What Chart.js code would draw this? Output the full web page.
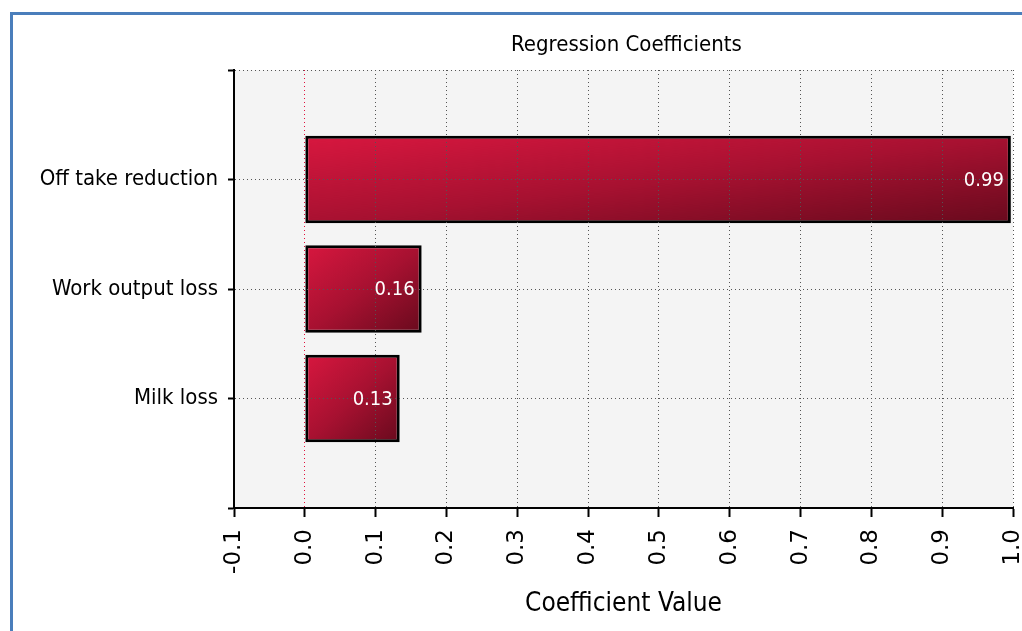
<!DOCTYPE html>
<html>
<head>
<meta charset="utf-8">
<script src="https://cdn.jsdelivr.net/npm/chart.js@4"></script>
<style>
  html, body { margin: 0; padding: 0; background: #fff; }
  #wrap { position: relative; width: 1022px; height: 631px; overflow: hidden; }
  #frame { position: absolute; left: 10px; top: 12px; right: -10px; bottom: -10px;
           border-top: 3px solid #4a7ebb; border-left: 3px solid #4a7ebb; pointer-events: none; }
  canvas { position: absolute; left: 0; top: 0; }
</style>
</head>
<body>
<div id="wrap">
  <canvas id="coefChart" width="1022" height="631"></canvas>
  <div id="frame"></div>
</div>
<script>
// categories: empty slots at each end keep the band layout of the original
const categories = ['', 'Off take reduction', 'Work output loss', 'Milk loss', ''];
// bar lengths as drawn, and the (truncated) numbers printed on them
const coefficients = [null, 0.997, 0.165, 0.134, null];
const printedValues = [null, '0.99', '0.16', '0.13', null];
const xTicks = [-0.1, 0.0, 0.1, 0.2, 0.3, 0.4, 0.5, 0.6, 0.7, 0.8, 0.9, 1.0];
const chartTitle = 'Regression Coefficients';

const narrowFamily = "'DejaVu Sans Condensed', 'DejaVu Sans', sans-serif";

// diagonal shade, stretched to each bar's box
const shadeCanvas = document.createElement('canvas');
shadeCanvas.width = 100; shadeCanvas.height = 100;
(function () {
  const g = shadeCanvas.getContext('2d');
  const grad = g.createLinearGradient(0, 0, 100, 100);
  grad.addColorStop(0, '#d8173f');
  grad.addColorStop(0.5, '#a81131');
  grad.addColorStop(1, '#680a1d');
  g.fillStyle = grad;
  g.fillRect(0, 0, 100, 100);
})();

function barFill(ctx) {
  const chart = ctx.chart;
  const v = ctx.raw;
  if (!chart.chartArea || v == null) return '#b01232';
  const xs = chart.scales.x, ys = chart.scales.y;
  const x0 = xs.getPixelForValue(0), x1 = xs.getPixelForValue(v);
  const yc = ys.getPixelForValue(ctx.dataIndex);
  const h = (ys.getPixelForValue(1) - ys.getPixelForValue(0)) * 0.8;
  const pat = chart.ctx.createPattern(shadeCanvas, 'no-repeat');
  pat.setTransform(new DOMMatrix([(x1 - x0) / 100, 0, 0, h / 100, x0, yc - h / 2]));
  return pat;
}

const plotBg = {
  id: 'plotBg',
  beforeDraw(chart) {
    const a = chart.chartArea, c = chart.ctx;
    c.save();
    c.fillStyle = '#f4f4f4';
    c.fillRect(a.left, a.top, a.right - a.left, a.bottom - a.top);
    c.restore();
  }
};

// title centred over the plot area, like the original
const plotTitle = {
  id: 'plotTitle',
  afterDraw(chart) {
    const a = chart.chartArea, c = chart.ctx;
    c.save();
    c.font = "condensed 22px " + narrowFamily;
    c.fillStyle = '#000000';
    c.textAlign = 'center';
    c.textBaseline = 'middle';
    c.fillText(chartTitle, (a.left + a.right) / 2 + 3, 45);
    c.restore();
  }
};

const valueLabels = {
  id: 'valueLabels',
  afterDraw(chart) {
    const c = chart.ctx;
    c.save();
    c.font = "condensed 20px " + narrowFamily;
    c.fillStyle = '#ffffff';
    c.textAlign = 'right';
    c.textBaseline = 'middle';
    chart.getDatasetMeta(0).data.forEach((bar, i) => {
      const t = printedValues[i];
      if (t == null) return;
      c.fillText(t, bar.x - 7, bar.y + 1);
    });
    c.restore();
  }
};

new Chart(document.getElementById('coefChart'), {
  type: 'bar',
  data: {
    labels: categories,
    datasets: [{
      label: chartTitle,
      data: coefficients,
      backgroundColor: barFill,
      borderColor: '#000000',
      borderWidth: 3,
      borderSkipped: false,
      categoryPercentage: 1,
      barPercentage: 0.8
    }]
  },
  options: {
    indexAxis: 'y',
    responsive: false,
    animation: false,
    layout: { padding: { left: 0, right: 9, top: 70, bottom: 0 } },
    plugins: {
      legend: { display: false },
      tooltip: { enabled: false },
      title: { display: false }
    },
    scales: {
      x: {
        type: 'linear',
        min: -0.1,
        max: 1.0,
        afterBuildTicks: scale => { scale.ticks = xTicks.map(v => ({ value: v })); },
        afterFit: scale => { scale.height = 123; scale.paddingLeft = 0; scale.paddingRight = 0; },
        border: { display: true, color: '#000000', width: 2, dash: [1, 3], z: 2 },
        grid: {
          z: 1,
          color: ctx => (ctx.tick && Math.abs(ctx.tick.value) < 1e-9) ? '#e0103c' : '#555555',
          lineWidth: 1,
          drawTicks: true,
          tickLength: 9,
          tickColor: '#000000',
          tickWidth: 2,
          tickBorderDash: []
        },
        ticks: {
          minRotation: 90,
          maxRotation: 90,
          padding: 12,
          color: '#000000',
          font: { family: "'DejaVu Sans', sans-serif", size: 23 },
          callback: v => Number(v).toFixed(1)
        },
        title: {
          display: true,
          text: 'Coefficient Value',
          color: '#000000',
          font: { family: narrowFamily, size: 26, weight: 'condensed' },
          padding: { top: 0, bottom: 11 }
        }
      },
      y: {
        type: 'category',
        offset: false,
        afterFit: scale => { scale.width = 234; scale.paddingTop = 0; scale.paddingBottom = 0; },
        border: { display: true, color: '#000000', width: 2, dash: [1, 3], z: 2 },
        grid: {
          z: 1,
          offset: false,
          color: '#555555',
          lineWidth: 1,
          drawTicks: true,
          tickLength: 6,
          tickColor: '#000000',
          tickWidth: 2,
          tickBorderDash: []
        },
        ticks: {
          padding: 10,
          color: '#000000',
          autoSkip: false,
          font: { family: narrowFamily, size: 22, weight: 'condensed' }
        }
      }
    }
  },
  plugins: [plotBg, plotTitle, valueLabels]
});
</script>
</body>
</html>
